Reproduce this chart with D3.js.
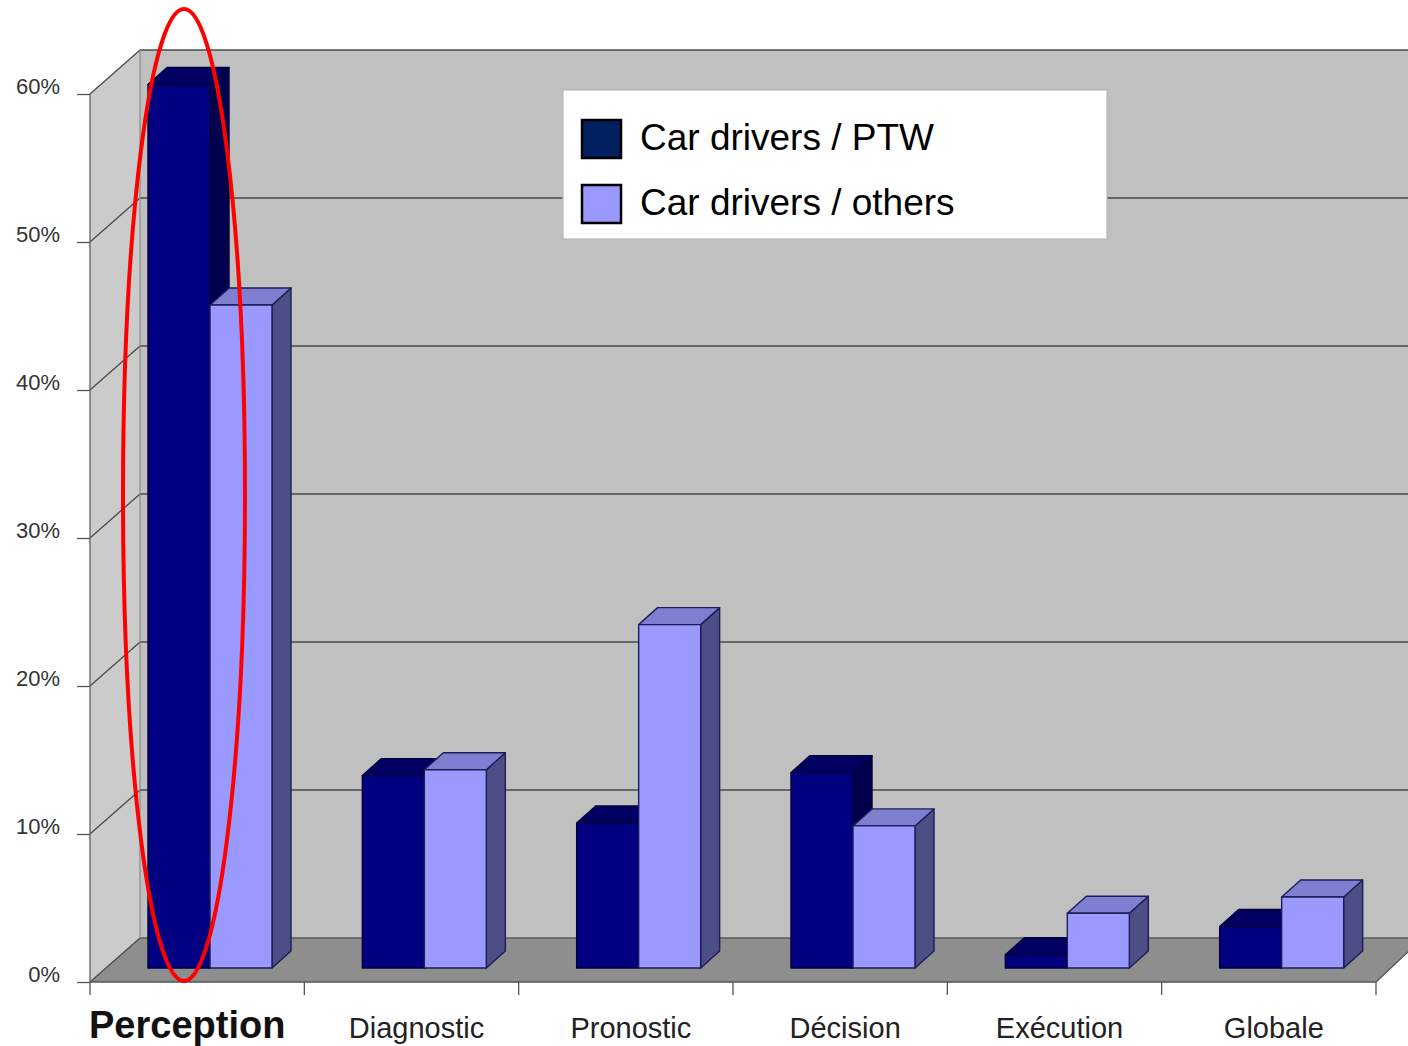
<!DOCTYPE html>
<html>
<head>
<meta charset="utf-8">
<script src="https://cdn.jsdelivr.net/npm/d3@7"></script>
<style>
  html, body { margin: 0; padding: 0; background: #ffffff; }
  svg { display: block; font-family: Arial, "Liberation Sans", sans-serif; }
</style>
</head>
<body>
<svg id="chart" width="1408" height="1046"></svg>
<script>
// Error types, share of accidents per driver pairing
const categories = ["Perception", "Diagnostic", "Pronostic", "Décision", "Exécution", "Globale"];
const seriesNames = ["Car drivers / PTW", "Car drivers / others"];
const ptwValues    = [0.597, 0.130, 0.098, 0.132, 0.009, 0.028];
const othersValues = [0.448, 0.134, 0.232, 0.096, 0.037, 0.048];
const yTickValues  = [0, 0.1, 0.2, 0.3, 0.4, 0.5, 0.6];

const svg = d3.select("#chart");
const W = 1408;

// Front plane scales
const x = d3.scaleBand().domain(categories).range([90, 1376]).paddingInner(0).paddingOuter(0);
const xs = d3.scaleBand().domain(seriesNames).range([42, 166]).padding(0);
const y = d3.scaleLinear().domain([0, 0.6]).range([982, 94]);

// Depth of the box (back wall offset) and of the bars
const DX = 50, DY = -44;           // wall depth
const BX0 = 16, BY0 = -14;         // bar front face offset
const BDX = 19, BDY = -17;         // bar thickness

const pts = a => a.map(p => p.join(",")).join(" ");

// Walls and floor
const y0 = y(0), yTop = y(0.6);
const xL = x.range()[0], xR = x.range()[1];

svg.append("polygon") // back wall
  .attr("points", pts([[xL + DX, yTop + DY], [W, yTop + DY], [W, y0 + DY], [xL + DX, y0 + DY]]))
  .attr("fill", "#c0c0c0");

svg.append("polygon") // left wall
  .attr("points", pts([[xL, yTop], [xL + DX, yTop + DY], [xL + DX, y0 + DY], [xL, y0]]))
  .attr("fill", "#cbcbcb");

svg.append("polygon") // floor
  .attr("points", pts([[xL, y0], [xR, y0], [W + 2, y0 - 32], [W + 2, y0 + DY], [xL + DX, y0 + DY]]))
  .attr("fill", "#8e8e8e");

// Gridlines on back wall and left wall
const grid = svg.append("g");
yTickValues.forEach(v => {
  grid.append("line")
    .attr("x1", xL + DX).attr("x2", W)
    .attr("y1", y(v) + DY).attr("y2", y(v) + DY)
    .attr("stroke", v === 0 ? "#5a5a5a" : "#4a4a4a").attr("stroke-width", 1.6);
  grid.append("line")
    .attr("x1", xL).attr("y1", y(v))
    .attr("x2", xL + DX).attr("y2", y(v) + DY)
    .attr("stroke", "#4a4a4a").attr("stroke-width", 1.3);
});
// wall corner and edges
grid.append("line").attr("x1", xL + DX).attr("x2", xL + DX).attr("y1", yTop + DY).attr("y2", y0 + DY)
  .attr("stroke", "#8a8a8a").attr("stroke-width", 1.2);
grid.append("line").attr("x1", xL).attr("x2", xL).attr("y1", yTop).attr("y2", y0)
  .attr("stroke", "#6a6a6a").attr("stroke-width", 1.4);
grid.append("line").attr("x1", xL).attr("x2", xR).attr("y1", y0).attr("y2", y0)
  .attr("stroke", "#555").attr("stroke-width", 1.6);
grid.append("line").attr("x1", xR).attr("x2", W + 2).attr("y1", y0).attr("y2", y0 - 32)
  .attr("stroke", "#555").attr("stroke-width", 1.4);

// Y axis labels and ticks
const yAxis = d3.axisLeft(y).tickValues(yTickValues).tickFormat(d3.format(".0%")).tickSize(13).tickPadding(17);
const ya = svg.append("g").attr("transform", `translate(${xL},0)`).call(yAxis);
ya.select(".domain").remove();
ya.selectAll(".tick line").attr("stroke", "#555").attr("stroke-width", 1.3);
ya.selectAll(".tick text").attr("font-size", 22).attr("fill", "#333").attr("y", -8)
  .attr("font-family", "Arial, 'Liberation Sans', sans-serif");

// X axis ticks
const xBounds = categories.map(c => x(c)).concat([xR]);
svg.append("g").selectAll("line").data(xBounds).join("line")
  .attr("x1", d => d).attr("x2", d => d).attr("y1", y0).attr("y2", y0 + 13)
  .attr("stroke", "#555").attr("stroke-width", 1.3);

// Category labels
svg.append("g").selectAll("text").data(categories).join("text")
  .attr("x", (d, i) => i === 0 ? x(d) - 1 : x(d) + x.bandwidth() / 2 + 5)
  .attr("y", 1038)
  .attr("text-anchor", (d, i) => i === 0 ? "start" : "middle")
  .attr("font-size", (d, i) => i === 0 ? 38 : 29)
  .attr("font-weight", (d, i) => i === 0 ? "bold" : "normal")
  .attr("fill", (d, i) => i === 0 ? "#111" : "#222")
  .text(d => d);

// 3D bars
const styles = [
  { front: "#000080", top: "#000062", side: "#00004e", stroke: "#000038" },
  { front: "#9999ff", top: "#7f7fd2", side: "#4e4e86", stroke: "#1c1c58" }
];
const barData = [];
categories.forEach((c, i) => {
  [ptwValues[i], othersValues[i]].forEach((v, s) => {
    barData.push({ c, s, v });
  });
});

const bars = svg.append("g");
barData.forEach(d => {
  const st = styles[d.s];
  const fx0 = x(d.c) + xs(seriesNames[d.s]) + BX0;
  const fx1 = fx0 + xs.bandwidth();
  const fyB = y(0) + BY0;
  const fyT = y(d.v) + BY0;
  const g = bars.append("g").attr("stroke", st.stroke).attr("stroke-width", 1.4).attr("stroke-linejoin", "round");
  g.append("polygon") // side
    .attr("points", pts([[fx1, fyT], [fx1 + BDX, fyT + BDY], [fx1 + BDX, fyB + BDY], [fx1, fyB]]))
    .attr("fill", st.side);
  g.append("polygon") // top
    .attr("points", pts([[fx0, fyT], [fx0 + BDX, fyT + BDY], [fx1 + BDX, fyT + BDY], [fx1, fyT]]))
    .attr("fill", st.top);
  g.append("rect") // front
    .attr("x", fx0).attr("y", fyT).attr("width", fx1 - fx0).attr("height", fyB - fyT)
    .attr("fill", st.front);
});

// Legend
const lg = svg.append("g").attr("transform", "translate(563,90)");
lg.append("rect").attr("width", 544).attr("height", 149).attr("fill", "#ffffff")
  .attr("stroke", "#b8b8b8").attr("stroke-width", 1.2);
const legendSwatch = ["#00205f", "#9999ff"];
seriesNames.forEach((name, i) => {
  const row = lg.append("g").attr("transform", `translate(0,${i * 65})`);
  row.append("rect").attr("x", 19).attr("y", 30).attr("width", 39).attr("height", 38)
    .attr("fill", legendSwatch[i]).attr("stroke", "#000").attr("stroke-width", 2.5);
  row.append("text").attr("x", 77).attr("y", 60).attr("font-size", 37).attr("fill", "#000").text(name);
});

// Highlight around the first category
svg.append("ellipse")
  .attr("cx", x(categories[0]) + 94).attr("cy", 495).attr("rx", 61).attr("ry", 486)
  .attr("fill", "none").attr("stroke", "#ff0000").attr("stroke-width", 4);
</script>
</body>
</html>
